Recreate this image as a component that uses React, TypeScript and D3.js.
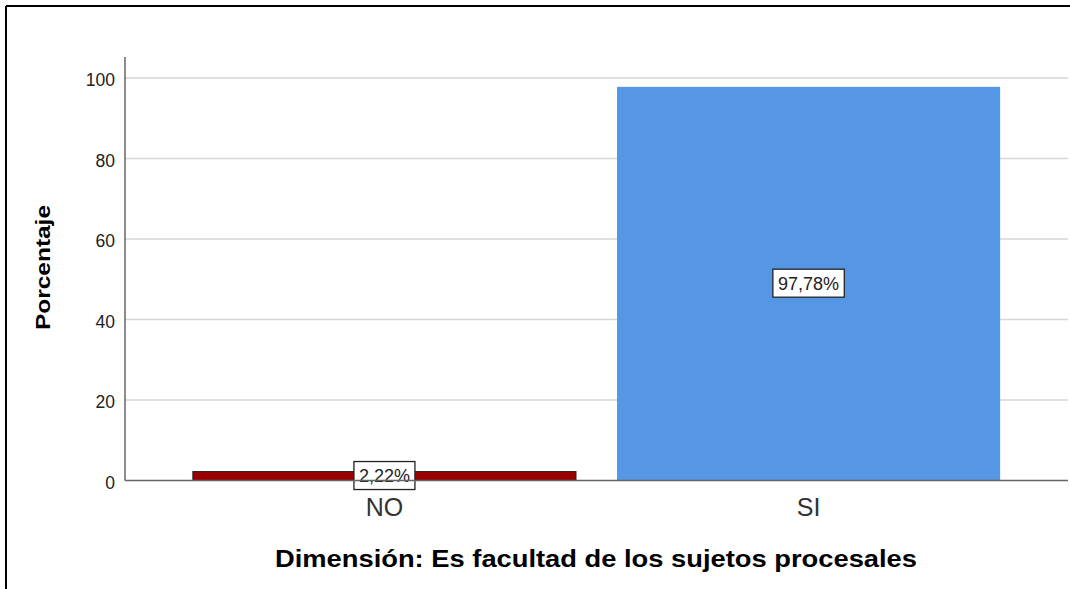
import React from "react";
import * as d3 from "d3";

const categories = ["NO", "SI"];
const values = [2.22, 97.78];
const valueLabels = ["2,22%", "97,78%"];
const barColors = ["#990000", "#5596E5"];
const yTicks = [0, 20, 40, 60, 80, 100];
const xTitle = "Dimensión: Es facultad de los sujetos procesales";
const yTitle = "Porcentaje";

const W = 1070;
const H = 589;
const left = 125;
const right = 1068;
const top = 57;
const bottom = 480.5;

export default function App() {
  const x = d3
    .scaleBand<string>()
    .domain(categories)
    .range([left, right])
    .paddingInner(0.0967)
    .paddingOuter(0.16);
  const y = d3.scaleLinear().domain([0, 105.2]).range([bottom, top]);
  const font = "'Liberation Sans', Arial, sans-serif";
  const labelFont = 18;
  return (
    <svg
      width={W}
      height={H}
      style={{ position: "absolute", left: 0, top: 0, background: "#fff" }}
      fontFamily={font}
    >
      <rect x={0} y={0} width={W} height={H} fill="#fff" />
      <line x1={6} y1={6} x2={W} y2={6} stroke="#000" strokeWidth={2} />
      <line x1={6} y1={6} x2={6} y2={H} stroke="#000" strokeWidth={2} />
      {yTicks.map((t) => (
        <g key={t}>
          {t > 0 && (
            <line x1={left} x2={right} y1={y(t)} y2={y(t)} stroke="#d6d6d6" strokeWidth={1.6} />
          )}
          <text x={115} y={y(t) + 8.5} textAnchor="end" fontSize={17.5} fill="#222">
            {t}
          </text>
        </g>
      ))}
      {categories.map((c, i) => {
        const bx = x(c)!;
        const bw = x.bandwidth();
        const by = y(values[i]);
        const bh = y(0) - by;
        const cx = bx + bw / 2;
        const cy = by + bh / 2 - 0.5;
        const lw = valueLabels[i].length * 10.4 + 9;
        return (
          <g key={c}>
            <rect
              x={bx}
              y={by}
              width={bw}
              height={bh}
              fill={barColors[i]}
              stroke={i === 0 ? "#222" : "none"}
              strokeWidth={1}
            />
            <rect
              x={cx - lw / 2}
              y={cy - 14}
              width={lw}
              height={28}
              fill="#fff"
              stroke="#222"
              strokeWidth={1.3}
            />
            <text x={cx} y={cy + 6.5} textAnchor="middle" fontSize={labelFont} fill="#222">
              {valueLabels[i]}
            </text>
            <text x={cx} y={516} textAnchor="middle" fontSize={25} fill="#333">
              {c}
            </text>
          </g>
        );
      })}
      <line x1={left} x2={left} y1={top} y2={bottom} stroke="#666" strokeWidth={1.5} />
      <line x1={left} x2={right} y1={bottom} y2={bottom} stroke="#666" strokeWidth={1.5} />
      <text
        x={596}
        y={567}
        textAnchor="middle"
        fontSize={23}
        fontWeight="bold"
        fill="#000"
        textLength={642}
        lengthAdjust="spacingAndGlyphs"
      >
        {xTitle}
      </text>
      <text
        transform={`translate(50,267.5) rotate(-90)`}
        textAnchor="middle"
        fontSize={20}
        fontWeight="bold"
        fill="#000"
        textLength={125}
        lengthAdjust="spacingAndGlyphs"
      >
        {yTitle}
      </text>
    </svg>
  );
}
